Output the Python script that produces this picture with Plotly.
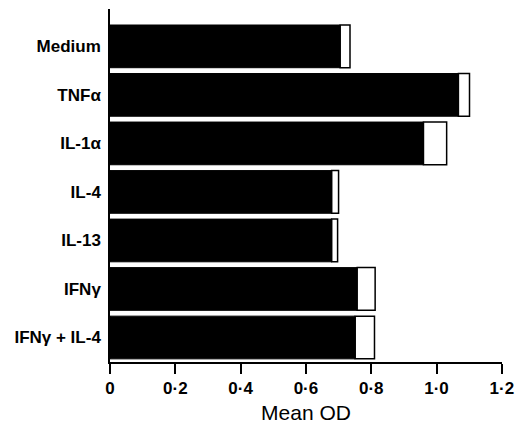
import plotly.graph_objects as go

categories = ["Medium", "TNFα", "IL-1α", "IL-4", "IL-13", "IFNγ", "IFNγ + IL-4"]
black_values = [0.705, 1.067, 0.960, 0.679, 0.679, 0.757, 0.751]
total_values = [0.735, 1.101, 1.031, 0.700, 0.697, 0.812, 0.810]
white_values = [t - b for t, b in zip(total_values, black_values)]
tick_vals = [0, 0.2, 0.4, 0.6, 0.8, 1.0, 1.2]
tick_text = ["0", "0·2", "0·4", "0·6", "0·8", "1·0", "1·2"]

font_family = "Liberation Sans, Arial, Helvetica, sans-serif"

fig = go.Figure()
fig.add_trace(go.Bar(
    y=categories, x=black_values, orientation="h",
    marker=dict(color="black", line=dict(color="black", width=1)),
    showlegend=False, hoverinfo="skip",
))
fig.add_trace(go.Bar(
    y=categories, x=white_values, base=black_values, orientation="h",
    marker=dict(color="white", line=dict(color="black", width=1.5)),
    showlegend=False, hoverinfo="skip",
))

fig.update_layout(
    width=515, height=430,
    margin=dict(l=110, r=13, t=9, b=68),
    paper_bgcolor="white", plot_bgcolor="white",
    barmode="overlay", bargap=0.12,
    font=dict(family=font_family, color="black"),
)
fig.update_xaxes(
    range=[0, 1.2005], tickvals=tick_vals, ticktext=tick_text,
    showgrid=False, zeroline=False, automargin=False,
    showline=True, linecolor="black", linewidth=1.5,
    ticks="outside", ticklen=10, tickwidth=1.5, tickcolor="black",
    ticklabeloverflow="allow",
    tickfont=dict(size=17, family=font_family, weight="bold"),
    title=dict(text="Mean OD", font=dict(size=21, family=font_family), standoff=8),
)
fig.update_yaxes(
    categoryorder="array", categoryarray=categories,
    range=[6.505, -0.77], automargin=False,
    showgrid=False, zeroline=False,
    showline=True, linecolor="black", linewidth=1.5,
    ticks="", ticklabelstandoff=4,
    tickfont=dict(size=17, family=font_family, weight="bold"),
)

# remove the default page margin so the 515x430 figure fills the window exactly
post = ("document.body.style.margin='0';"
        "document.documentElement.style.overflow='hidden';"
        "document.body.style.overflow='hidden';")
fig.write_html("out.html", post_script=post, config={"displayModeBar": False})
